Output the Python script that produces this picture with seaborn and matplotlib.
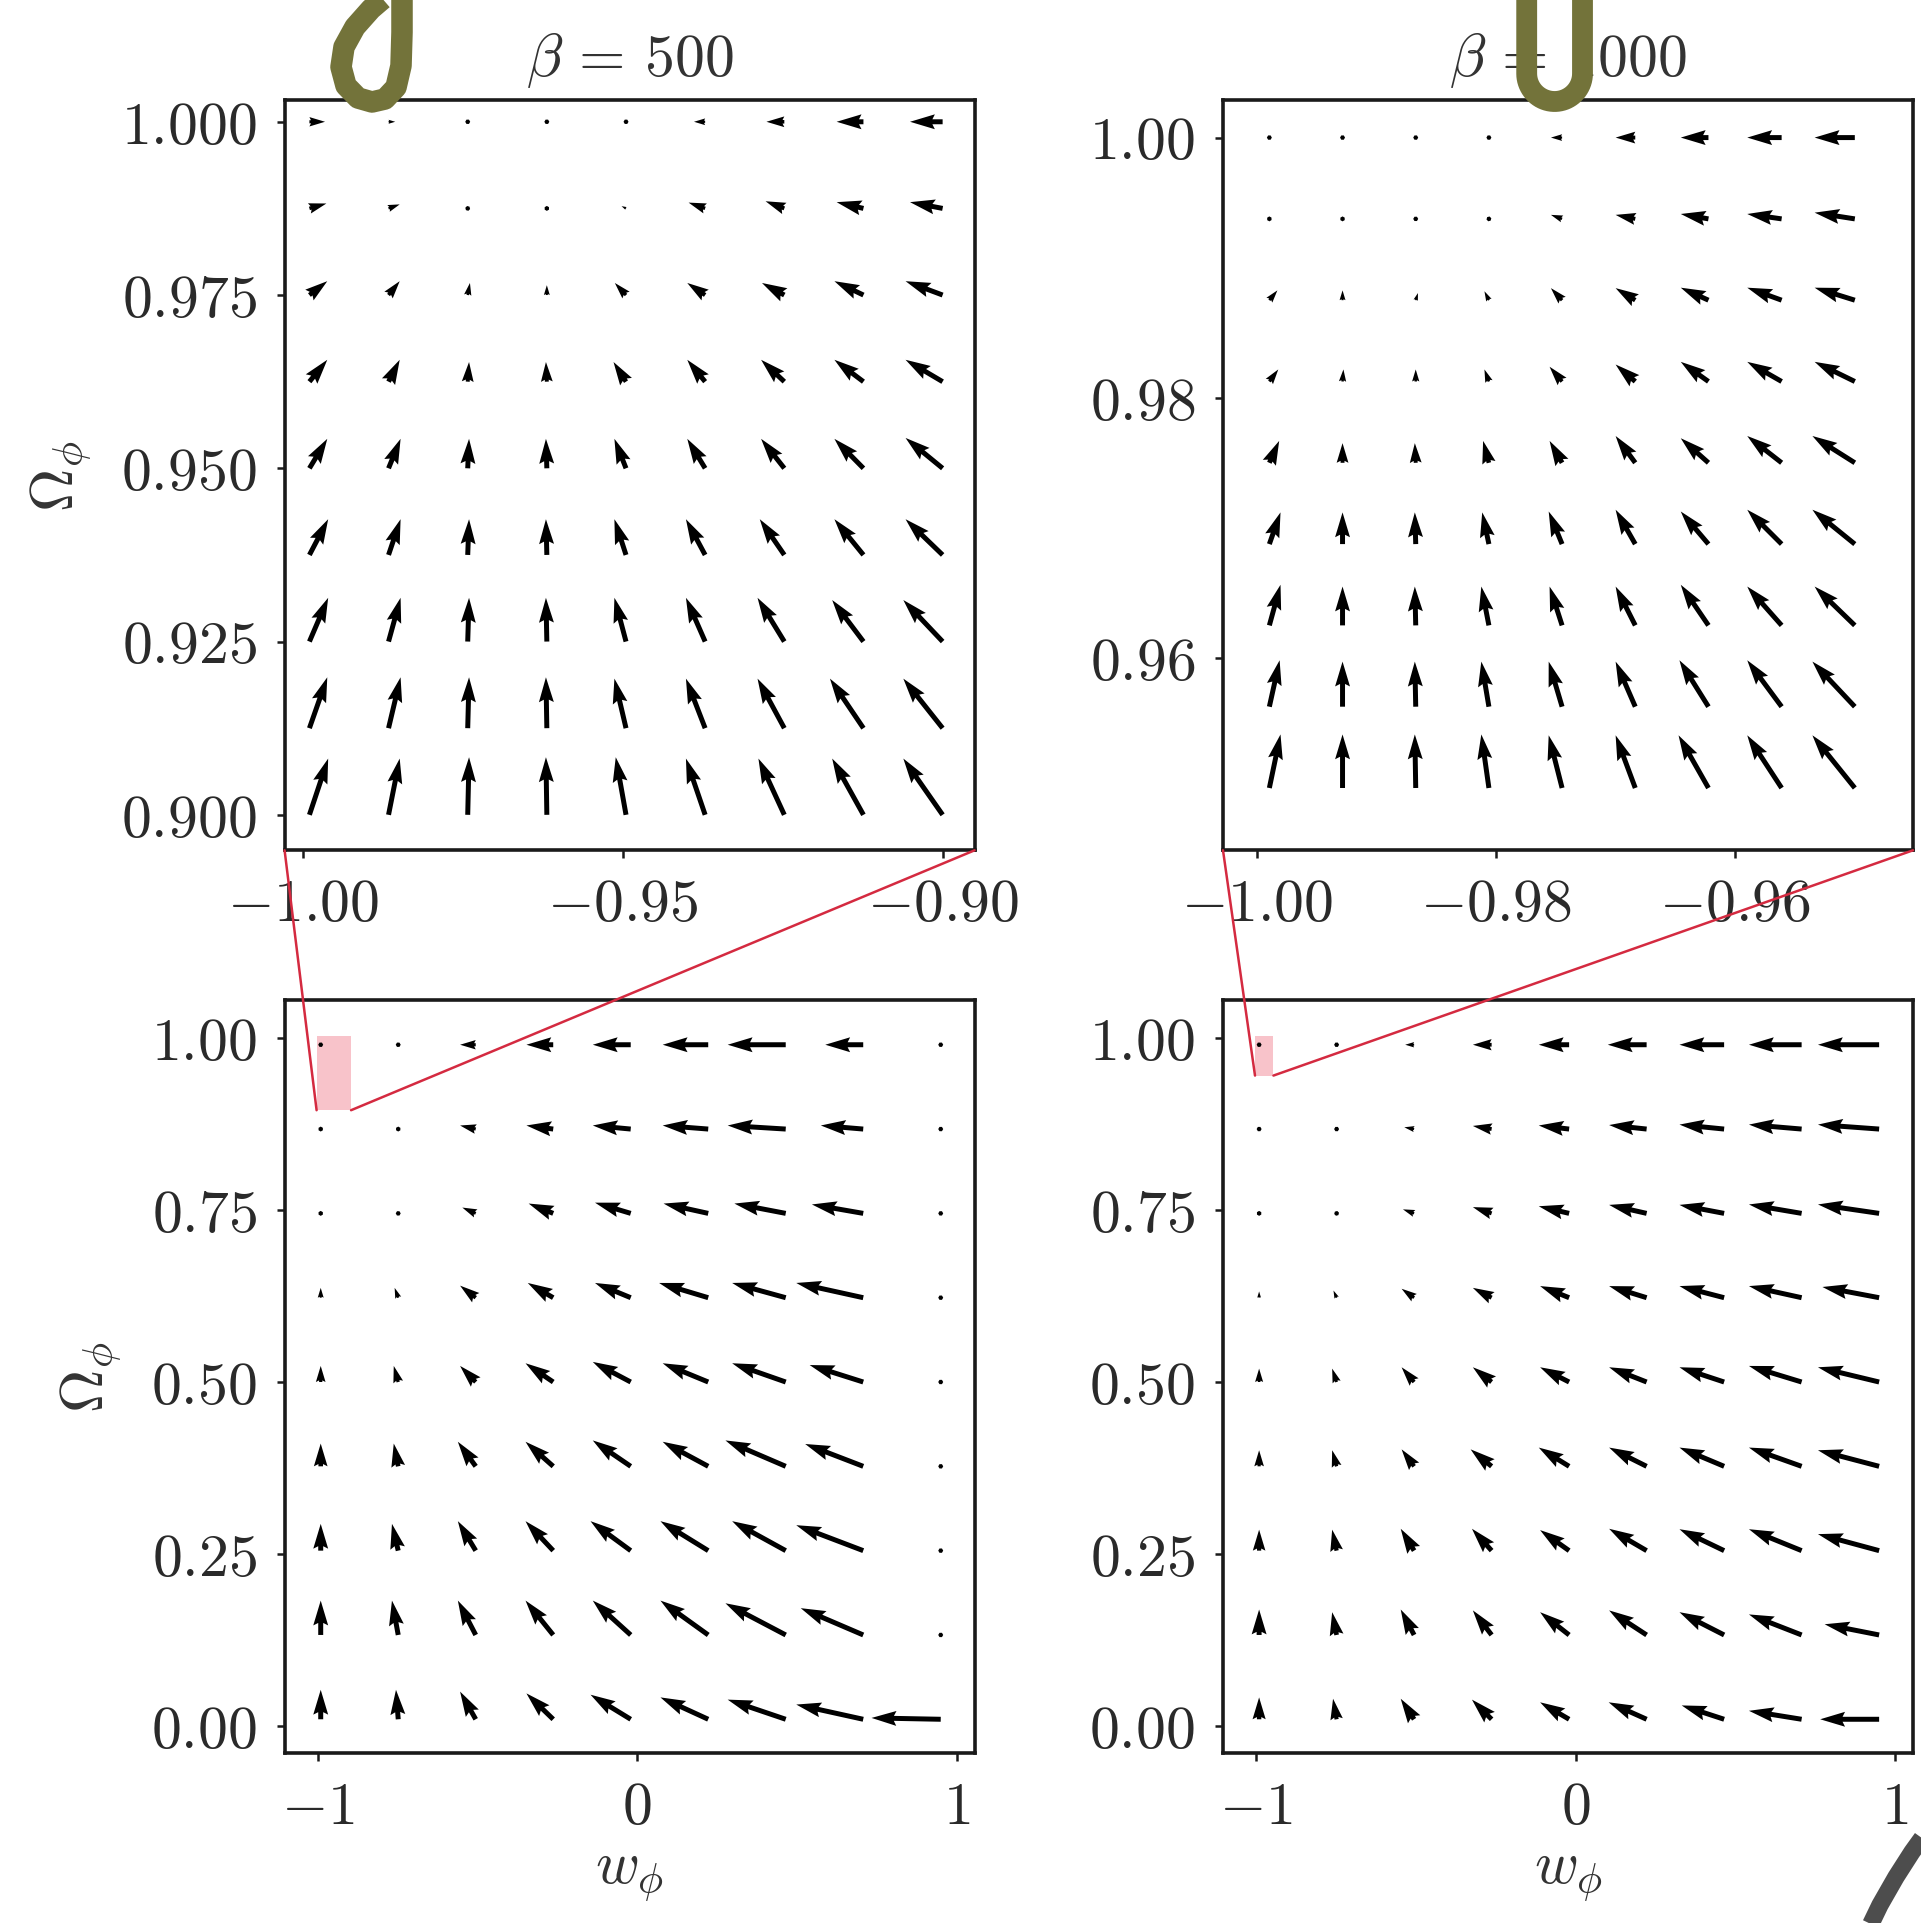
import numpy as np
import seaborn as sns
import matplotlib
matplotlib.use("Agg")
import matplotlib.pyplot as plt
from matplotlib.patches import Rectangle, ConnectionPatch
from matplotlib.lines import Line2D

# ---------------------------------------------------------------------------
# Sampling grids (equation of state w_phi, density parameter Omega_phi)
# ---------------------------------------------------------------------------
w_zoom_500 = [-0.999, -0.98663, -0.97425, -0.96188, -0.9495, -0.93713, -0.92475, -0.91238, -0.900]
om_zoom_500 = [0.900, 0.9125, 0.925, 0.9375, 0.950, 0.9625, 0.975, 0.9875, 1.000]
w_zoom_1000 = [-0.999, -0.992875, -0.98675, -0.980625, -0.9745, -0.968375, -0.96225, -0.956125, -0.950]
om_zoom_1000 = [0.950, 0.95625, 0.9625, 0.96875, 0.975, 0.98125, 0.9875, 0.99375, 1.000]
w_full = [-0.99, -0.7475, -0.505, -0.2625, -0.02, 0.2225, 0.465, 0.7075, 0.95]
om_full = [0.01, 0.1325, 0.255, 0.3775, 0.5, 0.6225, 0.745, 0.8675, 0.99]

# Flow components (dw, dOmega); rows follow Omega in increasing order
u_zoom_500 = [
    [42, 25, 3, -2, -23, -43, -58, -70, -88],
    [40, 27, 3, -2, -26, -43, -60, -75, -88],
    [42, 27, 3, -2, -26, -43, -60, -70, -88],
    [42, 27, 3, -2, -26, -43, -55, -65, -83],
    [40, 27, 3, -2, -26, -40, -52, -65, -83],
    [40, 25, 3, -2, -28, -40, -52, -65, -83],
    [40, 25, 5, 0, -25, -40, -50, -65, -83],
    [38, 25, 5, 0, -10, -37, -42, -60, -73],
    [35, 15, 3, 0, -3, -25, -40, -60, -73],
]
v_zoom_500 = [
    [126, 126, 129, 129, 129, 126, 126, 126, 126],
    [114, 114, 114, 114, 111, 111, 111, 111, 111],
    [98, 98, 98, 98, 98, 98, 98, 93, 93],
    [80, 80, 80, 80, 80, 80, 80, 80, 80],
    [66, 66, 66, 66, 66, 66, 66, 66, 68],
    [49, 49, 44, 44, 44, 49, 49, 49, 49],
    [31, 31, 27, 22, 27, 27, 27, 31, 31],
    [11, 9, 5, 3, 5, 13, 16, 14, 14],
    [0, 0, 0, 0, 0, 0, 0, 0, 0],
]

u_zoom_1000 = [
    [25, 0, -2, -17, -30, -44, -67, -77, -95],
    [23, 0, -2, -17, -30, -44, -65, -77, -95],
    [25, 0, -2, -17, -28, -44, -62, -77, -90],
    [25, 0, -2, -15, -30, -44, -62, -77, -95],
    [22, 0, -2, -13, -28, -44, -62, -77, -95],
    [20, 2, 0, -10, -28, -44, -62, -77, -90],
    [18, 0, 5, -10, -25, -44, -62, -77, -90],
    [8, 0, 0, -5, -25, -44, -62, -77, -90],
    [5, 2, 0, -3, -25, -44, -62, -77, -90],
]
v_zoom_1000 = [
    [120, 120, 120, 120, 118, 118, 118, 118, 118],
    [104, 101, 101, 101, 101, 101, 104, 104, 101],
    [91, 87, 87, 87, 87, 87, 91, 87, 87],
    [71, 71, 71, 71, 73, 77, 73, 77, 77],
    [49, 44, 44, 49, 49, 60, 55, 60, 60],
    [27, 27, 27, 27, 33, 38, 44, 44, 44],
    [22, 22, 16, 20, 27, 27, 28, 28, 28],
    [5, 3, 0, 5, 9, 9, 11, 11, 14],
    [0, 0, 0, 0, 0, 0, 0, 0, 0],
]

u_full_500 = [
    [0, -5, -35, -60, -90, -107, -130, -150, -155],
    [0, -14, -40, -62, -85, -107, -135, -140, -5],
    [0, -14, -40, -62, -90, -107, -120, -150, -5],
    [0, -10, -40, -62, -85, -102, -135, -130, -5],
    [0, -10, -35, -62, -85, -102, -120, -120, -5],
    [0, -8, -35, -57, -80, -110, -120, -150, -5],
    [0, -5, -30, -55, -80, -100, -115, -115, -5],
    [0, -5, -35, -60, -85, -102, -130, -95, -5],
    [0, -3, -35, -60, -85, -102, -130, -85, -3],
]
v_full_500 = [
    [66, 66, 62, 58, 55, 49, 44, 33, 3],
    [77, 77, 77, 77, 77, 77, 71, 60, 0],
    [60, 60, 66, 66, 66, 66, 66, 57, 0],
    [51, 51, 55, 55, 58, 55, 58, 50, 0],
    [36, 36, 36, 42, 45, 42, 42, 38, 0],
    [22, 22, 27, 33, 33, 33, 33, 33, 0],
    [9, 9, 13, 22, 24, 22, 22, 20, 0],
    [3, 3, 8, 8, 8, 8, 8, 8, 0],
    [0, 0, 0, 0, 0, 0, 0, 0, 0],
]

u_full_1000 = [
    [0, -8, -30, -44, -65, -85, -95, -118, -132],
    [0, -10, -30, -42, -65, -84, -100, -118, -122],
    [0, -10, -30, -44, -65, -84, -100, -118, -137],
    [0, -10, -28, -47, -68, -84, -100, -118, -137],
    [0, -10, -28, -42, -65, -84, -100, -118, -137],
    [0, -7, -28, -42, -65, -84, -100, -118, -127],
    [0, -5, -25, -42, -68, -84, -100, -118, -137],
    [0, -3, -22, -42, -68, -84, -100, -118, -137],
    [0, -3, -20, -42, -68, -87, -100, -118, -137],
]
v_full_1000 = [
    [49, 46, 46, 44, 38, 38, 31, 19, 0],
    [57, 51, 57, 55, 51, 55, 51, 46, 24],
    [47, 47, 49, 49, 46, 49, 48, 48, 37],
    [36, 36, 38, 38, 42, 42, 42, 42, 36],
    [30, 30, 33, 33, 33, 33, 33, 36, 33],
    [14, 16, 20, 22, 26, 26, 26, 26, 24],
    [3, 5, 9, 14, 16, 19, 19, 20, 20],
    [0, 0, 4, 7, 8, 9, 10, 10, 10],
    [0, 0, 0, 0, 0, 0, 0, 0, 0],
]

# Axis ticks
xt_zoom_500 = [-1.00, -0.95, -0.90]
yt_zoom_500 = [0.900, 0.925, 0.950, 0.975, 1.000]
xt_zoom_1000 = [-1.00, -0.98, -0.96]
yt_zoom_1000 = [0.96, 0.98, 1.00]
xt_full = [-1, 0, 1]
yt_full = [0.00, 0.25, 0.50, 0.75, 1.00]

titles = [r"$\beta\,=\,500$", r"$\beta\,=\,1000$"]

# ---------------------------------------------------------------------------
# Style
# ---------------------------------------------------------------------------
sns.set_theme(style="ticks")
FS = 43
plt.rcParams.update({
    "font.family": ["cmr10", "DejaVu Serif"],
    "mathtext.fontset": "cm",
    "axes.formatter.use_mathtext": True,
    "axes.edgecolor": "#1a1a1a",
    "axes.linewidth": 2.6,
    "xtick.color": "#1a1a1a",
    "ytick.color": "#1a1a1a",
    "xtick.labelcolor": "#2a2a2a",
    "ytick.labelcolor": "#2a2a2a",
    "xtick.major.size": 6,
    "ytick.major.size": 6,
    "xtick.major.width": 1.8,
    "ytick.major.width": 1.8,
    "xtick.labelsize": FS,
    "ytick.labelsize": FS,
    "axes.labelsize": FS,
    "axes.titlesize": FS,
    "xtick.major.pad": 14,
    "ytick.major.pad": 14,
    "axes.facecolor": "white",
    "figure.facecolor": "white",
})

W_PX, H_PX = 1921, 1924
fig = plt.figure(figsize=(W_PX / 100, H_PX / 100), dpi=100)

left_l, left_r = 284.6, 1223.0
width = 690.0
top_t, top_b = 100.6, 851.3
bot_t, bot_b = 1001.0, 1754.0


def add_axes(x0, y_top, y_bot):
    return fig.add_axes([x0 / W_PX, 1 - y_bot / H_PX, width / W_PX, (y_bot - y_top) / H_PX])


ax_a = add_axes(left_l, top_t, top_b)
ax_b = add_axes(left_r, top_t, top_b)
ax_c = add_axes(left_l, bot_t, bot_b)
ax_d = add_axes(left_r, bot_t, bot_b)

QKW = dict(pivot="tail", angles="uv", scale_units="dots", scale=2.24,
           width=0.0072, headwidth=3, headlength=5, headaxislength=4.5,
           color="black", zorder=3)


def field(ax, w, om, u, v):
    W, O = np.meshgrid(w, om)
    ax.quiver(W, O, np.array(u, float), np.array(v, float), **QKW)


field(ax_a, w_zoom_500, om_zoom_500, u_zoom_500, v_zoom_500)
field(ax_b, w_zoom_1000, om_zoom_1000, u_zoom_1000, v_zoom_1000)
field(ax_c, w_full, om_full, u_full_500, v_full_500)
field(ax_d, w_full, om_full, u_full_1000, v_full_1000)

ax_a.set_xlim(-1.00288, -0.8950)
ax_a.set_ylim(0.89488, 1.0032)
ax_b.set_xlim(-1.00288, -0.94513)
ax_b.set_ylim(0.94521, 1.00292)
for ax in (ax_c, ax_d):
    ax.set_xlim(-1.103, 1.056)
    ax.set_ylim(-0.039, 1.055)

ax_a.set_xticks(xt_zoom_500, [f"${t:.2f}$" for t in xt_zoom_500])
ax_a.set_yticks(yt_zoom_500, [f"${t:.3f}$" for t in yt_zoom_500])
ax_b.set_xticks(xt_zoom_1000, [f"${t:.2f}$" for t in xt_zoom_1000])
ax_b.set_yticks(yt_zoom_1000, [f"${t:.2f}$" for t in yt_zoom_1000])
for ax in (ax_c, ax_d):
    ax.set_xticks(xt_full, [f"${t:d}$" for t in xt_full])
    ax.set_yticks(yt_full, [f"${t:.2f}$" for t in yt_full])

for ax in (ax_a, ax_b, ax_c, ax_d):
    ax.tick_params(direction="out", top=False, right=False)
    for s in ax.spines.values():
        s.set_visible(True)

ax_a.set_title(titles[0], pad=18, color="#333333")
ax_b.set_title(titles[1], pad=18, color="#333333")
ax_a.set_ylabel(r"$\Omega_\phi$", labelpad=20, color="#333333")
ax_c.set_ylabel(r"$\Omega_\phi$", labelpad=20, color="#333333")
ax_c.set_xlabel(r"$w_\phi$", labelpad=10, color="#333333")
ax_d.set_xlabel(r"$w_\phi$", labelpad=10, color="#333333")

# Zoom regions marked on the full phase portraits
RED = "#d42a40"
for big, small in ((ax_c, ax_a), (ax_d, ax_b)):
    (x0, x1), (y0, y1) = small.get_xlim(), small.get_ylim()
    big.add_patch(Rectangle((x0, y0), x1 - x0, y1 - y0, fc="#f8c3ca", ec="none", zorder=2))
    for corner, xb in (((0, 0), x0), ((1, 0), x1)):
        con = ConnectionPatch(xyA=corner, coordsA=small.transAxes,
                              xyB=(xb, y0), coordsB=big.transData,
                              color=RED, lw=1.8, zorder=6)
        fig.add_artist(con)


# Panel letters and corner stroke
def px(xs, ys):
    return [x / W_PX for x in xs], [1 - y / H_PX for y in ys]


OLIVE = "#73733a"
a_x = [402.0, 402.0, 401.0, 396.0, 385.0, 372.0, 358.0, 346.0, 341.0, 344.0, 355.0, 371.0, 385.0, 394.0]
a_y = [-12.0, 33.3, 66.7, 88.3, 100.0, 103.0, 99.0, 86.7, 68.0, 48.0, 28.0, 10.0, -2.0, -12.0]
fig.add_artist(Line2D(*px(a_x, a_y), transform=fig.transFigure, color=OLIVE, lw=15.5,
                      solid_capstyle="butt", solid_joinstyle="round", zorder=20))

th = np.linspace(0, np.pi, 40)
b_x = [1526.7] + list(1554.6 - 27.9 * np.cos(th)) + [1582.5]
b_y = [-10.0] + list(74.6 + 27.9 * np.sin(th)) + [-10.0]
fig.add_artist(Line2D(*px(b_x, b_y), transform=fig.transFigure, color=OLIVE, lw=15,
                      solid_capstyle="butt", solid_joinstyle="round", zorder=20))

g_x = [1866.0, 1880.0, 1896.0, 1912.0, 1930.0]
g_y = [1935.0, 1906.0, 1878.0, 1853.0, 1828.0]
fig.add_artist(Line2D(*px(g_x, g_y), transform=fig.transFigure, color="#4d4d4d", lw=12.5,
                      solid_capstyle="butt", zorder=20))

fig.savefig("out.png", dpi=100)
